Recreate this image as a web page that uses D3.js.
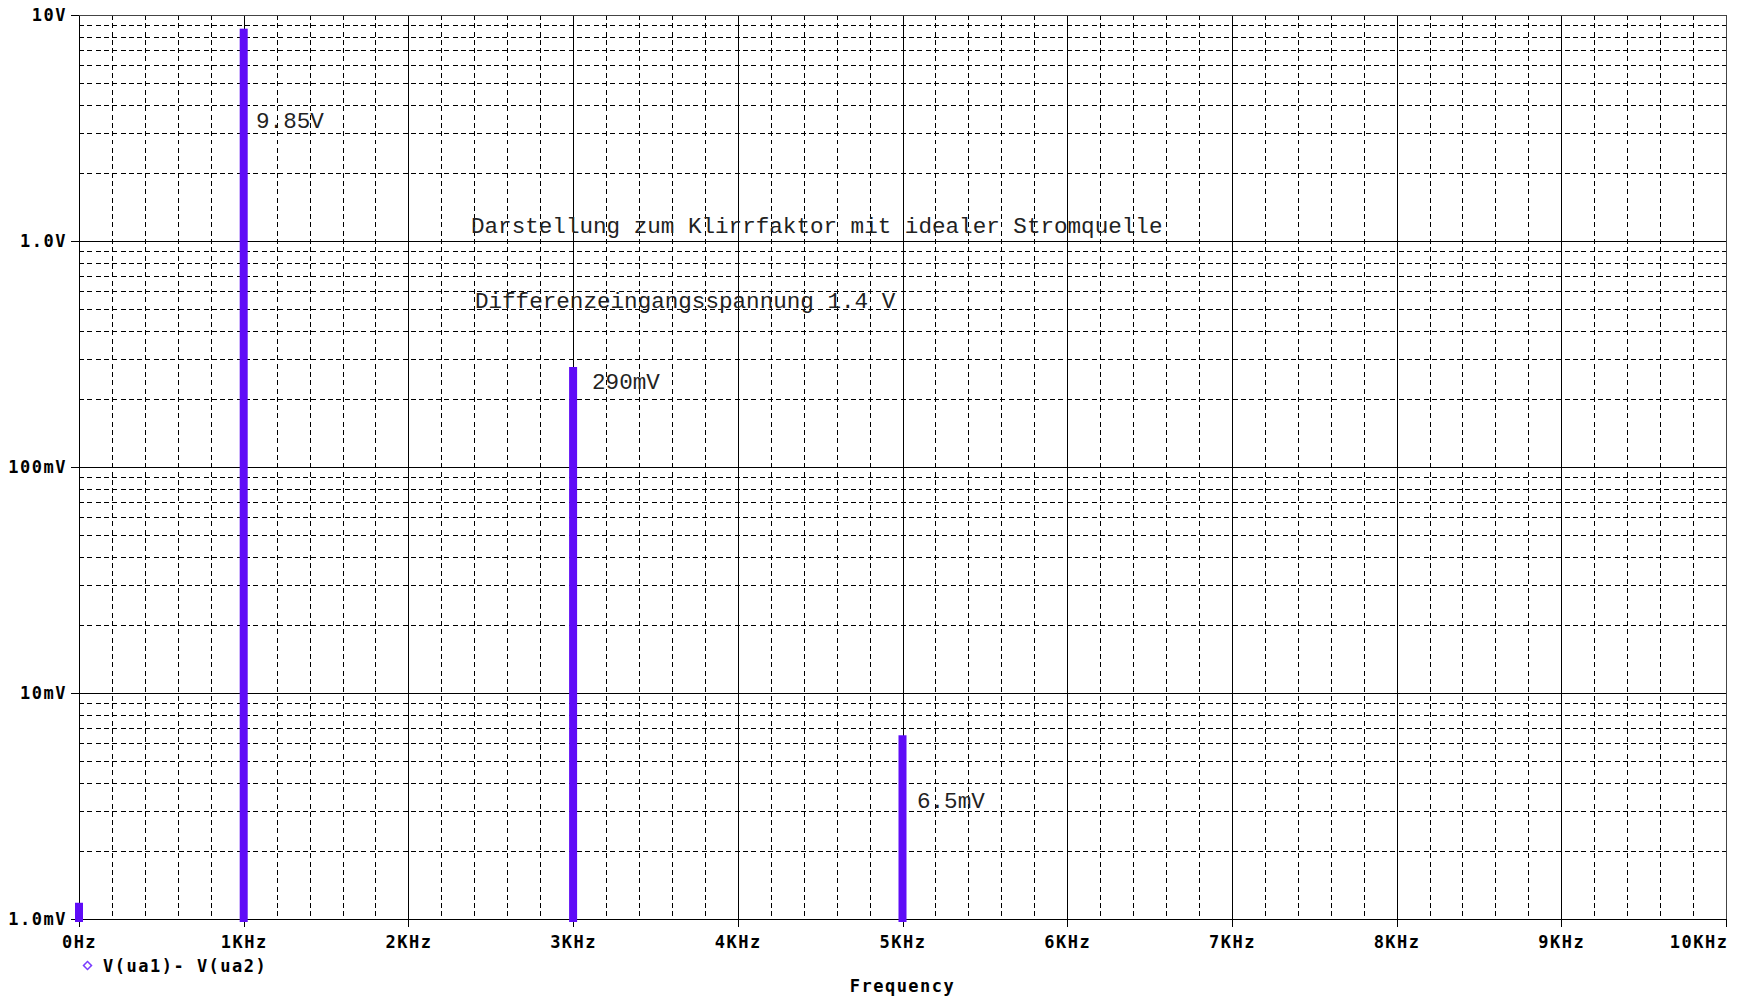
<!DOCTYPE html>
<html>
<head>
<meta charset="utf-8">
<script src="https://cdn.jsdelivr.net/npm/d3@7"></script>
<style>
body { margin: 0; background: #fff; }
.lbl { font-family: "DejaVu Sans Mono", monospace; font-weight: bold; font-size: 17px; letter-spacing: 1.5px; fill: #000; }
.note { font-family: "Liberation Mono", monospace; font-size: 22.6px; fill: #222; }
</style>
</head>
<body>
<svg id="svg"></svg>
<script>
// spectrum lines
var freqs = [0, 1000, 3000, 5000];
var amps = [0.00118, 8.7, 0.277, 0.0065];

var xTicks = [0, 1000, 2000, 3000, 4000, 5000, 6000, 7000, 8000, 9000, 10000];
var xTickLabels = ["0Hz", "1KHz", "2KHz", "3KHz", "4KHz", "5KHz", "6KHz", "7KHz", "8KHz", "9KHz", "10KHz"];
var yTicks = [0.001, 0.01, 0.1, 1, 10];
var yTickLabels = ["1.0mV", "10mV", "100mV", "1.0V", "10V"];

var noteTexts = ["9.85V", "290mV", "6.5mV",
    "Darstellung zum Klirrfaktor mit idealer Stromquelle",
    "Differenzeingangsspannung 1.4 V"];
var noteFreqs = [1075, 3115, 5088, 2380, 2404];
var noteVals = [3.16, 0.221, 0.0031, 1.084, 0.506];

var svg = document.getElementById("svg");
svg.setAttribute("width", window.innerWidth);
svg.setAttribute("height", window.innerHeight);
svg = d3.select("svg");

var plotLeft = 79, plotRight = 1726, plotTop = 15, plotBottom = 919;

var x = d3.scaleLinear().domain([0, 10000]).range([plotLeft, plotRight]);
var y = d3.scaleLog().domain([0.001, 10]).range([plotBottom, plotTop]);

var minorX = d3.range(200, 10000, 200).filter(function(d) { return d % 1000 != 0; });
var minorY = [];
yTicks.slice(0, 4).forEach(function(dec) {
    for (var k = 2; k <= 9; k++) minorY.push(dec * k);
});

function px(v) { return Math.round(v) + 0.5; }

var grid = svg.append("g").attr("shape-rendering", "crispEdges");

grid.selectAll(".minx").data(minorX).enter().append("line")
    .attr("x1", function(d) { return px(x(d)); })
    .attr("x2", function(d) { return px(x(d)); })
    .attr("y1", plotTop).attr("y2", plotBottom)
    .attr("stroke", "#000").attr("stroke-dasharray", "5,3.3");

grid.selectAll(".miny").data(minorY).enter().append("line")
    .attr("x1", plotLeft).attr("x2", plotRight)
    .attr("y1", function(d) { return px(y(d)); })
    .attr("y2", function(d) { return px(y(d)); })
    .attr("stroke", "#000").attr("stroke-dasharray", "5,3.3");

grid.selectAll(".majx").data(xTicks).enter().append("line")
    .attr("x1", function(d) { return px(x(d)); })
    .attr("x2", function(d) { return px(x(d)); })
    .attr("y1", plotTop).attr("y2", plotBottom)
    .attr("stroke", function(d) { return d == 10000 ? "#444" : "#000"; });

grid.selectAll(".majy").data(yTicks).enter().append("line")
    .attr("x1", plotLeft).attr("x2", plotRight)
    .attr("y1", function(d) { return px(y(d)); })
    .attr("y2", function(d) { return px(y(d)); })
    .attr("stroke", function(d) { return d == 10 ? "#444" : "#000"; });

// axes with pspice style labels
var xAxis = d3.axisBottom(x)
    .tickValues(xTicks)
    .tickFormat(function(d, i) { return xTickLabels[i]; })
    .tickSize(8).tickPadding(9);

var yAxis = d3.axisLeft(y)
    .tickValues(yTicks)
    .tickFormat(function(d, i) { return yTickLabels[i]; })
    .tickSize(8).tickPadding(4);

var gx = svg.append("g").attr("transform", "translate(0," + plotBottom + ")").call(xAxis);
var gy = svg.append("g").attr("transform", "translate(" + plotLeft + ",0)").call(yAxis);

[gx, gy].forEach(function(g) {
    g.select(".domain").remove();
    g.selectAll("line").attr("stroke", "#000").attr("shape-rendering", "crispEdges");
    g.selectAll("text").attr("class", "lbl").attr("font-family", null).attr("font-size", null).attr("fill", null);
});
gx.selectAll(".tick text").filter(function(d) { return d == 10000; })
    .attr("text-anchor", "end").attr("x", 2);

// bars
svg.selectAll(".bar").data(freqs).enter().append("rect")
    .attr("class", "bar")
    .attr("x", function(d) { return x(d) - 4; })
    .attr("width", 8)
    .attr("y", function(d, i) { return y(amps[i]); })
    .attr("height", function(d, i) { return y(0.001) - y(amps[i]) + 3; })
    .attr("fill", "#5f0cf7");

// annotations
svg.selectAll(".note").data(noteTexts).enter().append("text")
    .attr("class", "note")
    .attr("x", function(d, i) { return x(noteFreqs[i]); })
    .attr("y", function(d, i) { return y(noteVals[i]); })
    .text(function(d) { return d; });

// legend
svg.append("path")
    .attr("d", d3.symbol().type(d3.symbolSquare).size(32))
    .attr("transform", "translate(87.5,965.5) rotate(45)")
    .attr("fill", "none")
    .attr("stroke", "#7a3cff")
    .attr("stroke-width", 1.5);

svg.append("text")
    .attr("class", "lbl")
    .attr("x", 103).attr("y", 972)
    .text("V(ua1)- V(ua2)");

svg.append("text")
    .attr("class", "lbl")
    .attr("x", (plotLeft + plotRight) / 2).attr("y", 992)
    .attr("text-anchor", "middle")
    .text("Frequency");
</script>
</body>
</html>
